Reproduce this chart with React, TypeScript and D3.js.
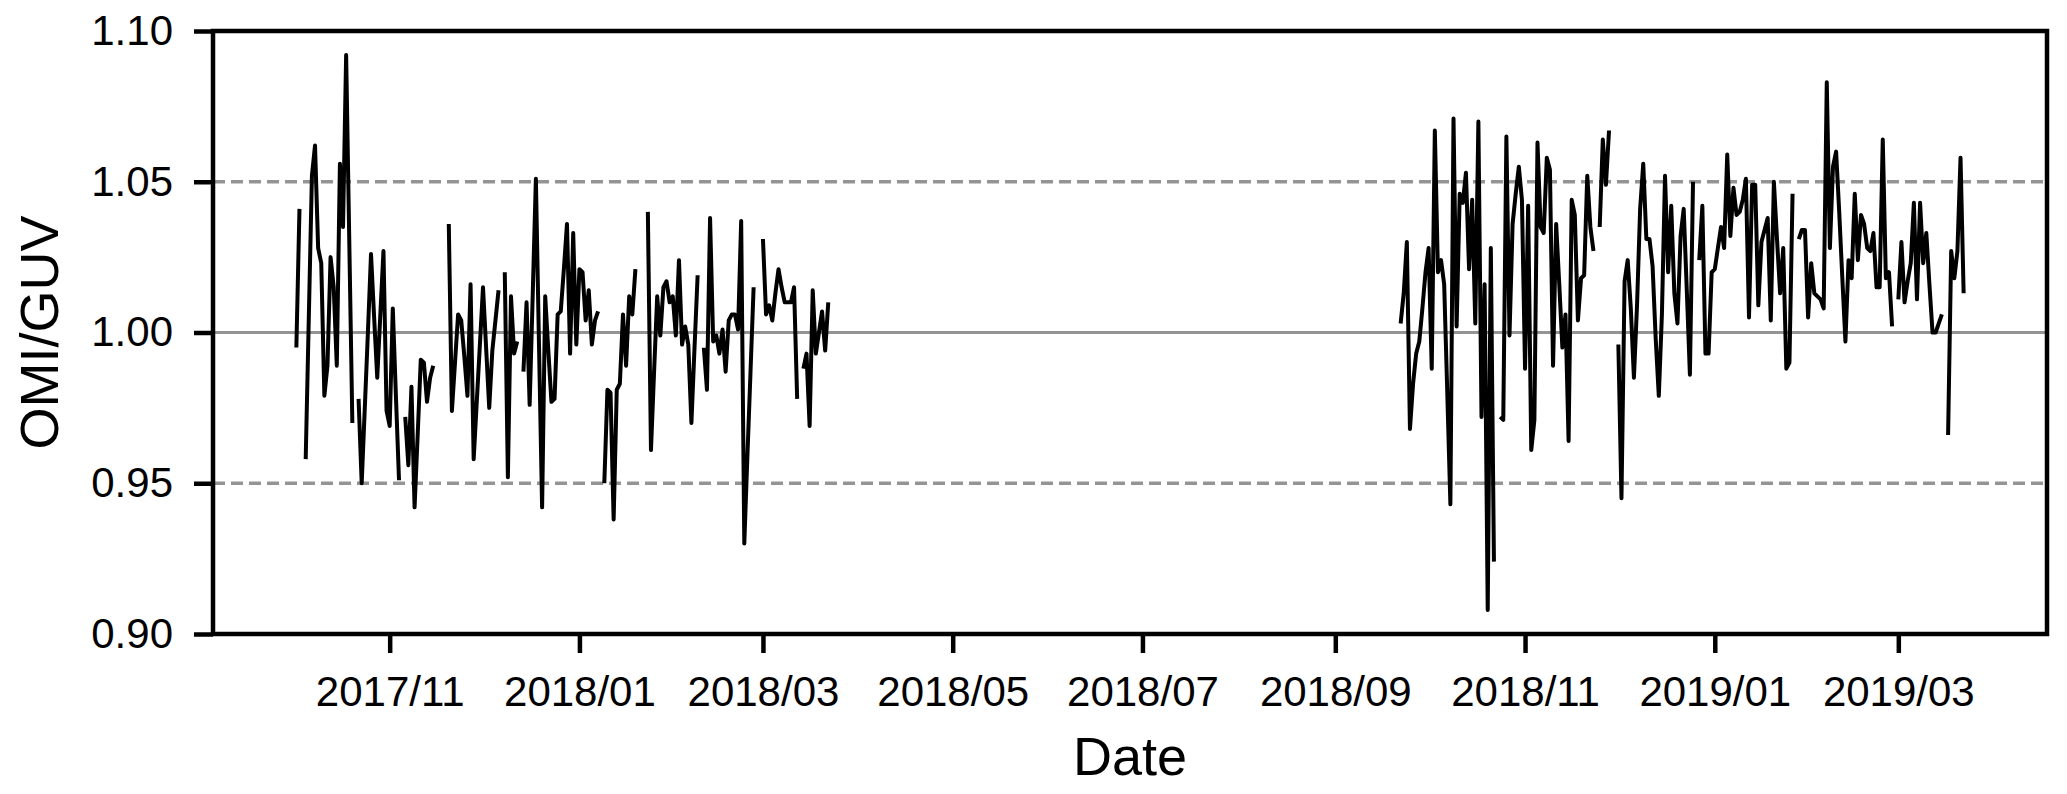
import React, { useEffect, useRef } from 'react';
import * as d3 from 'd3';

// daily OMI/GUV ratios, null = no matching overpass that day
const firstStart = '2017-10-02';
const firstValues = [
  0.995, 1.041, null, 0.958, 1.005, 1.052, 1.062, 1.028, 1.023, 0.979,
  0.989, 1.025, 1.015, 0.989, 1.056, 1.035, 1.092, 1.031, 0.970, null,
  0.978, 0.950, 0.975, 1.000, 1.026, 1.005, 0.985, 1.006, 1.027, 0.974,
  0.969, 1.008, 0.979, 0.951, null, 0.972, 0.956, 0.982, 0.942, 0.966,
  0.991, 0.990, 0.977, 0.985, 0.989, null, null, null, null, 1.036,
  0.974, 0.990, 1.006, 1.004, 0.992, 0.979, 1.016, 0.958, 0.977, 0.996,
  1.015, 0.995, 0.975, 0.994, 1.004, 1.014, null, 1.020, 0.952, 1.012,
  0.993, 0.997, null, 0.987, 1.010, 0.976, 1.013, 1.051, 0.996, 0.942,
  1.012, 0.994, 0.977, 0.978, 1.006, 1.007, 1.021, 1.036, 0.993, 1.033,
  0.996, 1.021, 1.020, 1.004, 1.014, 0.996, 1.004, 1.007, null, 0.950,
  0.981, 0.980, 0.938, 0.981, 0.983, 1.006, 0.989, 1.012, 1.006, 1.021,
  null, null, null, 1.040, 0.961, 0.987, 1.012, 0.999, 1.015, 1.017,
  1.010, 1.012, 0.999, 1.024, 0.996, 1.002, 0.996, 0.970, 0.995, 1.019,
  null, 0.995, 0.981, 1.038, 0.997, 0.999, 0.993, 1.001, 0.987, 1.004,
  1.006, 1.006, 1.001, 1.037, 0.930, 0.959, 0.987, 1.015, null, null,
  1.031, 1.006, 1.009, 1.004, 1.013, 1.021, 1.015, 1.010, 1.010, 1.010,
  1.015, 0.978, null, 0.988, 0.993, 0.969, 1.014, 0.993, 1.000, 1.007,
  0.994, 1.010,
];

const secondStart = '2018-09-22';
const secondValues = [
  1.003, 1.013, 1.030, 0.968, 0.983, 0.993, 0.997, 1.008, 1.020, 1.028,
  0.988, 1.067, 1.020, 1.024, 1.016, 0.980, 0.943, 1.071, 1.002, 1.046,
  1.043, 1.053, 1.021, 1.044, 1.003, 1.070, 0.972, 1.016, 0.908, 1.028,
  0.924, null, 0.972, 0.971, 1.065, 0.999, 1.036, 1.046, 1.055, 1.044,
  0.988, 1.042, 0.961, 0.971, 1.063, 1.035, 1.033, 1.058, 1.054, 0.989,
  1.036, 1.016, 0.995, 1.006, 0.964, 1.044, 1.039, 1.004, 1.018, 1.019,
  1.052, 1.035, 1.027, null, 1.035, 1.064, 1.049, 1.067, null, null,
  0.996, 0.945, 1.017, 1.024, 1.008, 0.985, 1.009, 1.041, 1.056, 1.031,
  1.031, 1.022, 0.998, 0.979, 1.006, 1.052, 1.020, 1.042, 1.013, 1.003,
  1.032, 1.041, 1.014, 0.986, 1.050, null, 1.024, 1.042, 0.993, 0.993,
  1.020, 1.021, 1.028, 1.035, 1.028, 1.059, 1.032, 1.048, 1.039, 1.040,
  1.044, 1.051, 1.005, 1.049, 1.049, 1.009, 1.030, 1.034, 1.038, 1.004,
  1.050, 1.031, 1.013, 1.028, 0.988, 0.990, 1.046, null, 1.031, 1.034,
  1.034, 1.005, 1.023, 1.013, 1.012, 1.011, 1.008, 1.083, 1.028, 1.055,
  1.060, 1.040, 1.018, 0.997, 1.024, 1.018, 1.046, 1.024, 1.039, 1.036,
  1.028, 1.027, 1.033, 1.015, 1.015, 1.064, 1.018, 1.020, 1.002, null,
  1.011, 1.030, 1.010, 1.017, 1.023, 1.043, 1.011, 1.043, 1.023, 1.033,
  1.016, 1.000, 1.000, 1.003, 1.006, null, 0.966, 1.027, 1.018, 1.027,
  1.058, 1.013,
];

const yTicks = [0.9, 0.95, 1.0, 1.05, 1.1];
const dashedLevels = [0.95, 1.05];
const solidLevels = [1.0];

const W = 2067;
const H = 794;
const margin = { top: 31, right: 20, bottom: 160, left: 213 };
const FONT = '"Liberation Sans", Arial, Helvetica, sans-serif';

const parseDay = d3.timeParse('%Y-%m-%d');

function toPoints(start: string, values: (number | null)[]) {
  const s = parseDay(start) as Date;
  return values.map((v, i) => ({ date: d3.timeDay.offset(s, i), value: v }));
}

const OmiChart = () => {
  const ref = useRef<SVGSVGElement>(null);

  useEffect(() => {
    const svg = d3.select(ref.current);
    svg.selectAll('*').remove();

    const a = toPoints(firstStart, firstValues);
    const b = toPoints(secondStart, secondValues);
    const gap = { date: d3.timeDay.offset(a[a.length - 1].date, 1), value: null };
    const points = [...a, gap, ...b];

    const [d0, d1] = d3.extent(points, d => d.date) as [Date, Date];
    const pad = (d1.getTime() - d0.getTime()) * 0.05;

    const x = d3.scaleTime()
      .domain([new Date(d0.getTime() - pad), new Date(d1.getTime() + pad)])
      .range([margin.left, W - margin.right]);
    const y = d3.scaleLinear()
      .domain([0.9, 1.1])
      .range([H - margin.bottom, margin.top]);

    // reference lines
    svg.selectAll('.dash')
      .data(dashedLevels)
      .enter().append('line')
      .attr('x1', margin.left).attr('x2', W - margin.right)
      .attr('y1', d => y(d)).attr('y2', d => y(d))
      .attr('stroke', '#949494')
      .attr('stroke-width', 3.4)
      .attr('stroke-dasharray', '12 6');

    svg.selectAll('.solid')
      .data(solidLevels)
      .enter().append('line')
      .attr('x1', margin.left).attr('x2', W - margin.right)
      .attr('y1', d => y(d)).attr('y2', d => y(d))
      .attr('stroke', '#949494')
      .attr('stroke-width', 3.2);

    const line = d3.line<{ date: Date; value: number | null }>()
      .defined(d => d.value != null)
      .x(d => x(d.date))
      .y(d => y(d.value as number));

    svg.append('path')
      .datum(points)
      .attr('d', line)
      .attr('fill', 'none')
      .attr('stroke', '#000')
      .attr('stroke-width', 4)
      .attr('stroke-linejoin', 'round');

    // frame
    svg.append('rect')
      .attr('x', margin.left)
      .attr('y', margin.top)
      .attr('width', W - margin.left - margin.right)
      .attr('height', H - margin.top - margin.bottom)
      .attr('fill', 'none')
      .attr('stroke', '#000')
      .attr('stroke-width', 4.5);

    const xAxis = svg.append('g')
      .attr('transform', `translate(0,${H - margin.bottom})`)
      .call(d3.axisBottom(x)
        .ticks(d3.timeMonth.every(2))
        .tickFormat(d3.timeFormat('%Y/%m') as any)
        .tickSize(19)
        .tickPadding(23));

    const yAxis = svg.append('g')
      .attr('transform', `translate(${margin.left},0)`)
      .call(d3.axisLeft(y)
        .tickValues(yTicks)
        .tickFormat(d3.format('.2f') as any)
        .tickSize(19)
        .tickPadding(21));

    [xAxis, yAxis].forEach(g => {
      g.select('.domain').remove();
      g.selectAll('.tick line').attr('stroke', '#000').attr('stroke-width', 4.5);
      g.selectAll('.tick text')
        .attr('fill', '#000')
        .style('font-family', FONT)
        .style('font-size', '42px');
    });

    svg.append('text')
      .attr('x', (margin.left + W - margin.right) / 2)
      .attr('y', 775)
      .attr('text-anchor', 'middle')
      .style('font-family', FONT)
      .style('font-size', '54px')
      .text('Date');

    svg.append('text')
      .attr('transform', `translate(58,${(margin.top + H - margin.bottom) / 2}) rotate(-90)`)
      .attr('text-anchor', 'middle')
      .style('font-family', FONT)
      .style('font-size', '54px')
      .text('OMI/GUV');
  }, []);

  return (
    <svg
      ref={ref}
      width={W}
      height={H}
      style={{ position: 'absolute', left: 0, top: 0, background: '#fff' }}
    ></svg>
  );
};

export default function App() {
  return <OmiChart />;
}
